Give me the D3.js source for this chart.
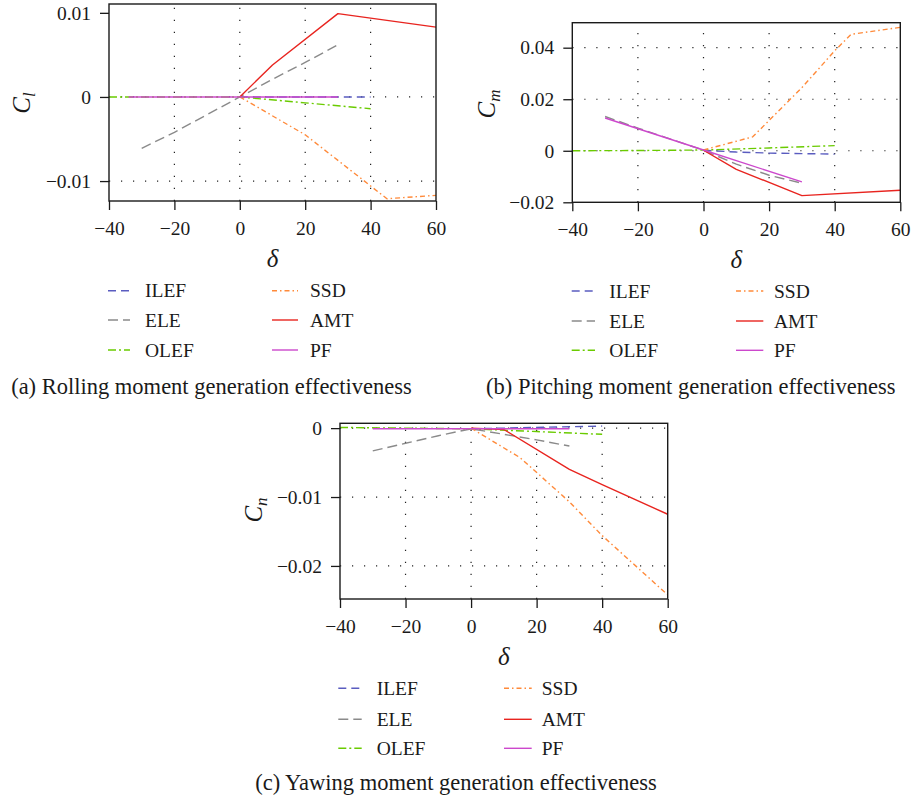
<!DOCTYPE html>
<html>
<head>
<meta charset="utf-8">
<script src="https://cdn.jsdelivr.net/npm/d3@7"></script>
<style>
  html, body { margin: 0; padding: 0; background: #fff; }
  svg { display: block; }
  text { font-family: "Liberation Serif", "DejaVu Serif", serif; fill: #1a1a1a; }
</style>
</head>
<body>
<svg id="fig" width="912" height="803"></svg>
<script>
// Control effectors, in legend order
const seriesNames = ["ILEF", "ELE", "OLEF", "SSD", "AMT", "PF"];
const xTicks = [-40, -20, 0, 20, 40, 60];

// Rolling moment coefficient C_l vs deflection δ (deg): [δ, C_l]
const clILEF = [[0, 0], [10, 0], [20, 0], [30, 0], [40, 0]];
const clELE  = [[-30, -0.0061], [-20, -0.0042], [-10, -0.0021], [0, 0], [10, 0.0021], [20, 0.0041], [30, 0.0062]];
const clOLEF = [[-40, 0], [-20, 0], [0, 0], [20, -0.0007], [40, -0.0014]];
const clSSD  = [[0, 0], [20, -0.0045], [45, -0.0121], [60, -0.0117]];
const clAMT  = [[0, 0], [10, 0.0038], [30, 0.0099], [60, 0.0083]];
const clPF   = [[-34, 0], [0, 0], [30, 0]];
const clTicks = [-0.01, 0, 0.01];

// Pitching moment coefficient C_m vs δ
const cmILEF = [[0, 0.0002], [10, -0.0005], [20, -0.0009], [30, -0.0011], [40, -0.0013]];
const cmELE  = [[-30, 0.0133], [-20, 0.0088], [-10, 0.0045], [0, 0.0002], [10, -0.0052], [20, -0.0095], [30, -0.0126]];
const cmOLEF = [[-40, 0], [-20, 0.0001], [0, 0.0003], [20, 0.0011], [40, 0.002]];
const cmSSD  = [[0, 0.0003], [15, 0.0054], [30, 0.0245], [40, 0.0388], [45, 0.0452], [60, 0.0479]];
const cmAMT  = [[0, 0.0002], [10, -0.0072], [30, -0.0174], [60, -0.0153]];
const cmPF   = [[-30, 0.0127], [0, 0.0003], [30, -0.0121]];
const cmTicks = [-0.02, 0, 0.02, 0.04];

// Yawing moment coefficient C_n vs δ
const cnILEF = [[0, -0.0001], [10, 0], [20, 0.0001], [30, 0.0002], [40, 0.0003]];
const cnELE  = [[-30, -0.0033], [-20, -0.0022], [-10, -0.0011], [0, -0.0001], [10, -0.0009], [20, -0.0017], [30, -0.0026]];
const cnOLEF = [[-40, 0.0001], [-20, 0], [0, -0.0001], [20, -0.0005], [40, -0.0009]];
const cnSSD  = [[0, 0], [15, -0.0043], [30, -0.0107], [40, -0.0156], [60, -0.0242]];
const cnAMT  = [[0, 0], [10, -0.0002], [30, -0.006], [40, -0.0082], [60, -0.0125]];
const cnPF   = [[-30, -0.0001], [0, -0.0001], [30, -0.0001]];
const cnTicks = [-0.02, -0.01, 0];

// Line styles per effector
const styles = {
  ILEF: { color: "#5a5cc0", dash: "8,5",         width: 1.4 },
  ELE:  { color: "#8a8a8a", dash: "10,5",        width: 1.4 },
  OLEF: { color: "#6acb00", dash: "8,3,2,3",     width: 1.4 },
  SSD:  { color: "#ff8a3a", dash: "5,3,1.5,3",   width: 1.4 },
  AMT:  { color: "#e8241f", dash: null,          width: 1.4 },
  PF:   { color: "#cc48cc", dash: null,          width: 1.4 }
};

const panels = [
  {
    box: { l: 109, r: 436, t: 4, b: 201 },
    yDomain: [-0.01237, 0.01105],
    yTicks: clTicks, gridY: [-0.01, 0],
    series: [clILEF, clELE, clOLEF, clSSD, clAMT, clPF],
    ylab: { main: "C", sub: "l", x: 30, y: 103 },
    legend: { c1: [108, 130, 145], c2: [272, 298, 310], rows: [290.7, 320, 350] },
    caption: { text: "(a) Rolling moment generation effectiveness", x: 211.5, y: 394 }
  },
  {
    box: { l: 572.3, r: 900.3, t: 22.7, b: 202.3 },
    yDomain: [-0.02, 0.0497],
    yTicks: cmTicks, gridY: [0, 0.02, 0.04],
    series: [cmILEF, cmELE, cmOLEF, cmSSD, cmAMT, cmPF],
    ylab: { main: "C", sub: "m", x: 495, y: 104 },
    legend: { c1: [571.7, 595, 609.3], c2: [736, 763.3, 774], rows: [291, 321, 350.3] },
    caption: { text: "(b) Pitching moment generation effectiveness", x: 690.8, y: 394.3 }
  },
  {
    box: { l: 340, r: 667.7, t: 423.3, b: 599 },
    yDomain: [-0.0248, 0.0007],
    yTicks: cnTicks, gridY: [-0.02, -0.01, 0],
    series: [cnILEF, cnELE, cnOLEF, cnSSD, cnAMT, cnPF],
    ylab: { main: "C", sub: "n", x: 262, y: 510 },
    legend: { c1: [338.3, 361.7, 376.7], c2: [504, 531.7, 541.7], rows: [688.3, 719.3, 748.3] },
    caption: { text: "(c) Yawing moment generation effectiveness", x: 456, y: 790 }
  }
];

const fmt = v => (v < 0 ? "\u2212" + String(Math.abs(v)) : String(v));
const svg = d3.select("#fig");

panels.forEach(p => {
  const { l, r, t, b } = p.box;
  const x = d3.scaleLinear().domain([-40, 60]).range([l, r]);
  const y = d3.scaleLinear().domain(p.yDomain).range([b, t]);
  const g = svg.append("g");

  // dotted grid
  const grid = g.append("g").attr("stroke", "#222").attr("stroke-width", 1.2)
    .attr("stroke-dasharray", "1.2,10.8");
  xTicks.filter(v => v > -40 && v < 60).forEach(v => {
    grid.append("line").attr("x1", x(v)).attr("x2", x(v)).attr("y1", b).attr("y2", t);
  });
  p.gridY.forEach(v => {
    grid.append("line").attr("x1", l).attr("x2", r).attr("y1", y(v)).attr("y2", y(v));
  });

  // effector curves
  const line = d3.line().x(d => x(d[0])).y(d => y(d[1]));
  p.series.forEach((data, i) => {
    const s = styles[seriesNames[i]];
    g.append("path").datum(data).attr("d", line)
      .attr("fill", "none").attr("stroke", s.color).attr("stroke-width", s.width)
      .attr("stroke-dasharray", s.dash).attr("stroke-linejoin", "round");
  });

  // axes
  const ax = g.append("g").attr("transform", `translate(0,${b})`)
    .call(d3.axisBottom(x).tickValues(xTicks).tickFormat(fmt).tickSize(9).tickPadding(11));
  const ay = g.append("g").attr("transform", `translate(${l},0)`)
    .call(d3.axisLeft(y).tickValues(p.yTicks).tickFormat(fmt).tickSize(9).tickPadding(9));
  [ax, ay].forEach(a => {
    a.select(".domain").remove();
    a.selectAll(".tick line").attr("stroke", "#1a1a1a").attr("stroke-width", 1.3);
    a.selectAll(".tick text").attr("font-size", 19.5).attr("fill", "#1a1a1a")
      .style("font-family", '"Liberation Serif", serif');
  });

  // frame
  g.append("rect").attr("x", l).attr("y", t).attr("width", r - l).attr("height", b - t)
    .attr("fill", "none").attr("stroke", "#1a1a1a").attr("stroke-width", 1.4);

  // axis titles
  g.append("text").attr("x", (l + r) / 2).attr("y", b + 65.5)
    .attr("text-anchor", "middle").attr("font-size", 25).attr("font-style", "italic").text("δ");
  const yl = g.append("text")
    .attr("transform", `translate(${p.ylab.x},${p.ylab.y}) rotate(-90)`)
    .attr("text-anchor", "middle").attr("font-style", "italic").attr("font-size", 25);
  yl.append("tspan").text(p.ylab.main);
  yl.append("tspan").attr("font-size", 17).attr("dy", 5).text(p.ylab.sub);

  // legend: two columns of three
  seriesNames.forEach((name, i) => {
    const col = i < 3 ? p.legend.c1 : p.legend.c2;
    const yy = p.legend.rows[i % 3];
    const s = styles[name];
    g.append("line").attr("x1", col[0]).attr("x2", col[1]).attr("y1", yy).attr("y2", yy)
      .attr("stroke", s.color).attr("stroke-width", s.width).attr("stroke-dasharray", s.dash);
    g.append("text").attr("x", col[2]).attr("y", yy + 6.5).attr("font-size", 19.5).text(name);
  });

  // caption
  g.append("text").attr("x", p.caption.x).attr("y", p.caption.y)
    .attr("text-anchor", "middle").attr("font-size", 22.5).text(p.caption.text);
});
</script>
</body>
</html>
